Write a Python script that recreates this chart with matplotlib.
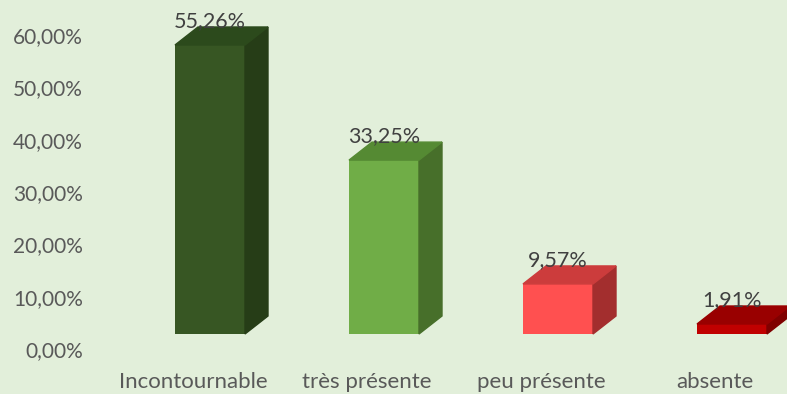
import matplotlib.pyplot as plt
import matplotlib.transforms as mtransforms
from matplotlib.patches import Polygon

categories = ["Incontournable", "très présente", "peu présente", "absente"]
values = [55.26, 33.25, 9.57, 1.91]
labels = ["55,26%", "33,25%", "9,57%", "1,91%"]
front_colors = ["#375623", "#70ad47", "#ff5050", "#c00000"]
side_colors = ["#263d17", "#476f2a", "#a32e2e", "#7f0000"]
top_colors = ["#2c4a1c", "#558a33", "#cc3c3c", "#990000"]
ticks = [0, 10, 20, 30, 40, 50, 60]
tick_labels = ["0,00%", "10,00%", "20,00%", "30,00%", "40,00%", "50,00%", "60,00%"]

bg = "#e2efda"
plt.rcParams['font.family'] = ['Lato', 'DejaVu Sans']

W, H = 787, 394
fig = plt.figure(figsize=(W / 100, H / 100), dpi=100, facecolor=bg)
ax = fig.add_axes([90 / W, (H - 362) / H, 1 - 90 / W, 362 / H])
ax.set_facecolor(bg)

px_per_unit = 5.23
px_per_cat = 174
ax.set_xlim((90 - 210) / px_per_cat, (787 - 210) / px_per_cat)
ax.set_ylim((334 - 362) / px_per_unit, 334 / px_per_unit)

width = 70 / px_per_cat
dx = 23 / px_per_cat
dy = 18 / px_per_unit

x = list(range(len(categories)))
ax.bar(x, values, width=width, color=front_colors, zorder=3)
for i, v in enumerate(values):
    l, r = i - width / 2, i + width / 2
    ax.add_patch(Polygon([(r, 0), (r + dx, dy), (r + dx, v + dy), (r, v)],
                         closed=True, color=side_colors[i], zorder=3))
    ax.add_patch(Polygon([(l, v), (r, v), (r + dx, v + dy), (l + dx, v + dy)],
                         closed=True, color=top_colors[i], zorder=3))
    ax.annotate(labels[i], (i, v), xytext=(0, 17), textcoords="offset points",
                ha="center", va="center", fontsize=15.5, color="#404040", zorder=4)

ax.set_yticks(ticks)
ax.set_yticklabels(tick_labels, fontsize=15, color="#595959")
ax.set_xticks(x)
ax.set_xticklabels(categories, fontsize=16, color="#595959")
ax.tick_params(length=0)
ax.tick_params(axis="y", pad=5)
ax.tick_params(axis="x", pad=7)

# shift tick labels to sit in front of the 3D floor
ydown = mtransforms.ScaledTranslation(0, -15 / 100, fig.dpi_scale_trans)
for t in ax.get_yticklabels():
    t.set_transform(t.get_transform() + ydown)
xleft = mtransforms.ScaledTranslation(-17 / 100, 0, fig.dpi_scale_trans)
for t in ax.get_xticklabels():
    t.set_transform(t.get_transform() + xleft)

for s in ax.spines.values():
    s.set_visible(False)

fig.savefig("out.png", dpi=100, facecolor=bg)
